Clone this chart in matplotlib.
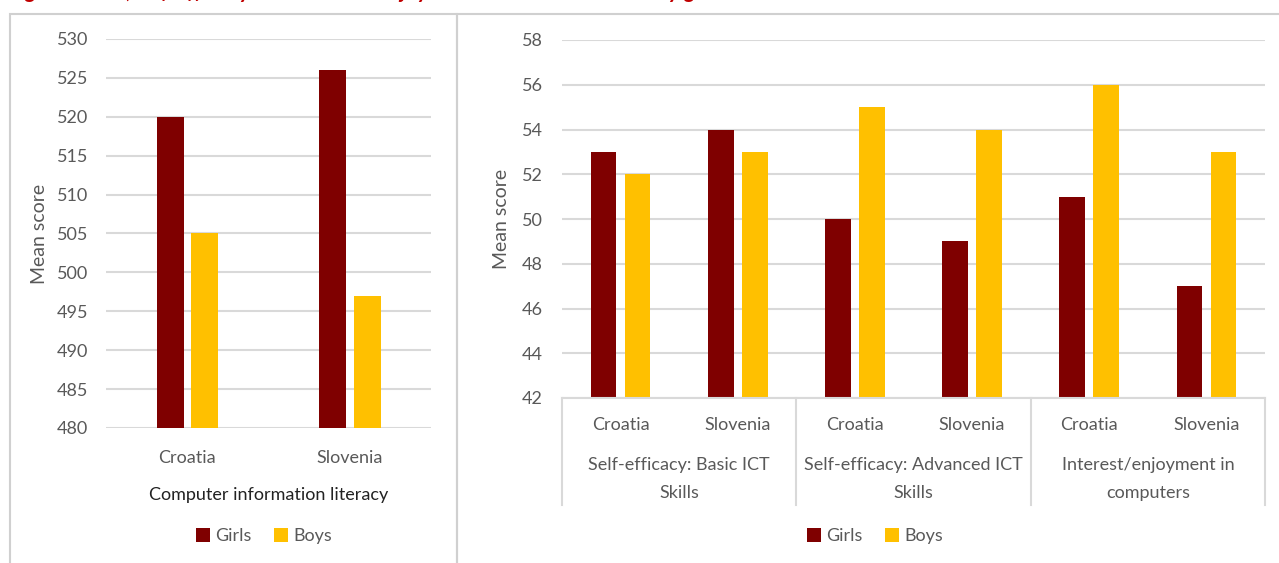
import numpy as np
import matplotlib.pyplot as plt
from matplotlib.patches import Rectangle
from matplotlib.transforms import blended_transform_factory

# scores by gender
cil_countries = ["Croatia", "Slovenia"]
cil_girls = [520, 526]
cil_boys = [505, 497]

scale_groups = ["Self-efficacy: Basic ICT\nSkills",
                "Self-efficacy: Advanced ICT\nSkills",
                "Interest/enjoyment in\ncomputers"]
scale_countries = ["Croatia", "Slovenia"] * 3
scale_girls = [53, 54, 50, 49, 51, 47]
scale_boys = [52, 53, 55, 54, 56, 53]

GIRLS = "#7F0000"
BOYS = "#FFC000"
GRID = "#D9D9D9"
TXT = "#595959"

plt.rcParams['font.family'] = ['Lato', 'DejaVu Sans']

fig = plt.figure(figsize=(12.79, 5.63), dpi=100)
W, H = 1279, 563


def fx(px):
    return px / W


def fy(py):
    return 1 - py / H


# panel frames
for x0, x1 in [(10, 457), (457, 1290)]:
    fig.add_artist(Rectangle((fx(x0), fy(575)), fx(x1 - x0), (575 - 14) / H,
                             transform=fig.transFigure, fill=False,
                             edgecolor="#D0D0D0", lw=1.5))

# caption sits above the top edge, only its lowest part shows
fig.text(fx(8), fy(-2.5), "Figure 3: CIL, self-efficacy and interest/enjoyment in ICT scale scores by gender",
         color="#C00000", fontsize=16, fontweight="bold", fontstyle="italic",
         ha="left", va="baseline")

# ---- left panel ----
ax1 = fig.add_axes([fx(106), fy(428), fx(431 - 106), (428 - 39) / H])
x = np.arange(len(cil_countries))
ax1.bar(x - 0.105, np.array(cil_girls) - 480, bottom=480, width=0.165, color=GIRLS, label="Girls")
ax1.bar(x + 0.108, np.array(cil_boys) - 480, bottom=480, width=0.165, color=BOYS, label="Boys")
ax1.set_xlim(-0.5, 1.5)
ax1.set_ylim(480, 530)
ax1.set_yticks(range(480, 531, 5))
ax1.set_xticks(x)
ax1.set_xticklabels(cil_countries)
ax1.grid(axis="y", color=GRID, lw=1.5)
ax1.set_axisbelow(True)
for s in ax1.spines.values():
    s.set_visible(False)
ax1.tick_params(length=0, labelsize=13, labelcolor=TXT)
ax1.tick_params(axis="y", pad=13)
ax1.tick_params(axis="x", pad=16)
ax1.set_xlabel("Computer information literacy", fontsize=13, color="#222222", labelpad=15)
ax1.set_ylabel("Mean score", fontsize=14, color=TXT, labelpad=6)
ax1.legend(loc="center", bbox_to_anchor=(fx(264), fy(536)), bbox_transform=fig.transFigure,
           ncol=2, frameon=False, fontsize=13, labelcolor=TXT,
           handlelength=0.8, handleheight=0.8, handletextpad=0.3, columnspacing=1.2)

# ---- right panel ----
ax2 = fig.add_axes([fx(562), fy(398), fx(1265 - 562), (398 - 40) / H])
x2 = np.arange(len(scale_countries))
ax2.bar(x2 - 0.145, np.array(scale_girls) - 42, bottom=42, width=0.22, color=GIRLS, label="Girls")
ax2.bar(x2 + 0.145, np.array(scale_boys) - 42, bottom=42, width=0.22, color=BOYS, label="Boys")
ax2.set_xlim(-0.5, 5.5)
ax2.set_ylim(42, 58)
ax2.set_yticks(range(42, 59, 2))
ax2.set_xticks(x2)
ax2.set_xticklabels(scale_countries)
ax2.grid(axis="y", color=GRID, lw=1.5)
ax2.set_axisbelow(True)
for s in ax2.spines.values():
    s.set_visible(False)
ax2.spines["bottom"].set_visible(True)
ax2.spines["bottom"].set_color(GRID)
ax2.spines["bottom"].set_linewidth(1.5)
ax2.tick_params(length=0, labelsize=13, labelcolor=TXT)
ax2.tick_params(axis="y", pad=14)
ax2.tick_params(axis="x", pad=14)
ax2.set_ylabel("Mean score", fontsize=14, color=TXT, labelpad=8)

# two-level category axis: group separators and group names
trans = blended_transform_factory(ax2.transData, ax2.transAxes)
sep_bottom = -(505 - 398) / (398 - 40)
for xb in [-0.5, 1.5, 3.5, 5.5]:
    ax2.plot([xb, xb], [0, sep_bottom], transform=trans, color=GRID, lw=1.5, clip_on=False)
for i, g in enumerate(scale_groups):
    ax2.text(2 * i + 0.5, -(479 - 398) / (398 - 40), g, transform=trans, ha="center", va="center",
             fontsize=13, color=TXT, linespacing=1.9)

ax2.legend(loc="center", bbox_to_anchor=(fx(875), fy(536)), bbox_transform=fig.transFigure,
           ncol=2, frameon=False, fontsize=13, labelcolor=TXT,
           handlelength=0.8, handleheight=0.8, handletextpad=0.3, columnspacing=1.2)

fig.savefig("out.png", dpi=100)
